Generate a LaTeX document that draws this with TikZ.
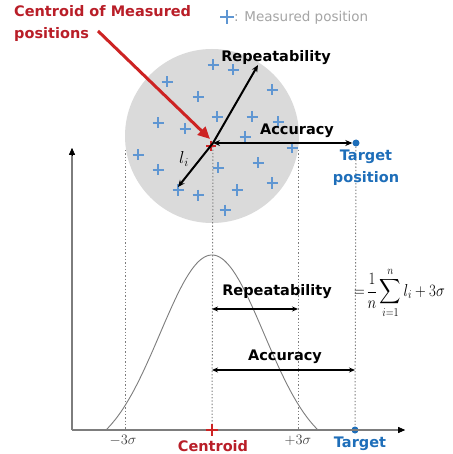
\documentclass[tikz,border=0pt]{standalone}
\usepackage{amsmath}
\usepackage{fontspec}
\setmainfont{DejaVu Sans}
\usetikzlibrary{arrows.meta}
\definecolor{dred}{RGB}{185,30,40}
\definecolor{rarrow}{RGB}{205,35,35}
\definecolor{pblue}{RGB}{95,150,210}
\definecolor{tblue}{RGB}{30,110,185}
\definecolor{cgray}{RGB}{218,218,218}
\definecolor{tgray}{RGB}{165,165,165}
\definecolor{agray}{RGB}{125,125,125}
\begin{document}
\begin{tikzpicture}[x=1pt,y=-1pt,
  lbl/.style={font=\fontsize{14.5}{22}\bfseries\selectfont, inner sep=0pt},
  pm/.style={pblue, line width=1.8pt},
  dotline/.style={agray, line width=1pt, dash pattern=on 1.3pt off 2pt},
  bigarrow/.style={line width=2pt, -{Stealth[length=7pt,width=6pt]}},
  dimarrow/.style={line width=1.1pt, {Stealth[length=6pt,width=5pt]}-{Stealth[length=6pt,width=5pt]}},
  axisline/.style={agray, line width=1.3pt}
]
\useasboundingbox (0,0) rectangle (452,454);
\fill[white] (0,0) rectangle (452,454);

% gray disc
\fill[cgray] (212,136) circle (87);

% key points
\coordinate (C) at (213,143);
\node[circle, fill=tblue, inner sep=0pt, minimum size=7pt] (T) at (356,143) {};
\coordinate (R) at (258,65);
\coordinate (L) at (178,187);
\coordinate (O) at (72,430);
\coordinate (Xend) at (405,430);
\coordinate (Yend) at (72,148);
\coordinate (Caxis) at (212,430);
\node[circle, fill=tblue, inner sep=0pt, minimum size=7pt] (Taxis) at (355,430) {};

% dotted verticals
\draw[dotline] (125,150) -- (125,430);
\draw[dotline] (C) -- (Caxis);
\draw[dotline] (298,150) -- (298,430);
\draw[dotline] (T) -- (Taxis);

% measured positions
\foreach \p in {(213,65),(233,70),(167,82),(198,97),(272,90),(158,123),(185,129),(217,117),(252,117),(278,122),(245,137),(292,148),(138,155),(158,170),(218,168),(258,163),(272,183),(237,190),(178,190),(198,195),(225,210)}
  \draw[pm] \p ++(-5.5,0) -- ++(11,0) \p ++(0,-5.5) -- ++(0,11);

% small red cross at centroid
\draw[rarrow, line width=1.6pt] (206,146) -- (216,146) (211,141) -- (211,151);

% upper arrows
\draw[bigarrow] (C) -- (R);
\draw[bigarrow] (C) -- (L);
\draw[line width=2pt, {Stealth[length=7pt,width=6pt]}-{Stealth[length=7pt,width=6pt]}] (C) -- (T.west);

% red pointer
\node[lbl, text=dred, align=left, anchor=north west] (ctitle) at (14,5.5) {Centroid of Measured\\positions};
\coordinate (Rs) at (98,31);
\draw[rarrow, line width=3pt, -{Triangle[length=12pt,width=11pt]}] (Rs) -- (210,139);

% legend
\draw[pblue, line width=1.8pt] (220,17) -- (234,17) (227,10) -- (227,24);
\node[anchor=west, inner sep=0pt, text=tgray, font=\fontsize{13.5}{15}\selectfont] (legend) at (234,17.5) {: Measured position};

% upper labels
\node[lbl] (rep1) at (276,58) {Repeatability};
\node[lbl] (acc1) at (297,131) {Accuracy};
\node[lbl, text=tblue, align=center] (tpos) at (366,168) {Target\\position};
\node[inner sep=0pt, font=\fontsize{18}{18}\selectfont] (li) at (184,159) {$l_i$};

% axes
\draw[axisline, -{Triangle[length=7pt,width=6pt]}] (O) -- (Xend);
\draw[axisline, -{Triangle[length=7pt,width=6pt]}] (O) -- (Yend);
\draw[black, -{Triangle[length=7pt,width=6pt]}] (398,430) -- (Xend);
\draw[black, -{Triangle[length=7pt,width=6pt]}] (72,156) -- (Yend);

% gaussian curve
\draw[agray, line width=0.9pt] plot[domain=-106:106, samples=90, smooth] ({212+\x}, {430 - 175*(exp(-\x*\x/5408)-0.125)/0.875});

% red cross on axis
\draw[rarrow, line width=1.5pt] (206,430) -- (218,430) (212,424) -- (212,436);

% lower arrows
\node[lbl] (rep2) at (277,292) {Repeatability};
\coordinate (r2a) at (212,309);
\coordinate (r2b) at (298,309);
\draw[dimarrow] (r2a) -- (r2b);
\node[lbl] (acc2) at (285,357) {Accuracy};
\coordinate (a2a) at (212,370);
\coordinate (a2b) at (355,370);
\draw[dimarrow] (a2a) -- (a2b);
\node[anchor=west, inner sep=0pt, font=\fontsize{17}{20}\selectfont] (formula) at (354,293) {\scalebox{0.86}[1]{$\displaystyle =\!\frac{1}{n}\sum_{i=1}^{n} l_i+3\sigma$}};

% axis labels
\node[inner sep=0pt, text=black!75, font=\fontsize{15}{16}\selectfont] (m3s) at (123,440) {$-3\sigma$};
\node[inner sep=0pt, text=black!75, font=\fontsize{15}{16}\selectfont] (p3s) at (298,440) {$+3\sigma$};
\node[lbl, text=dred] (cent) at (213,446) {Centroid};
\node[lbl, text=tblue] (targ) at (360,444) {Target};
\end{tikzpicture}
\end{document}
